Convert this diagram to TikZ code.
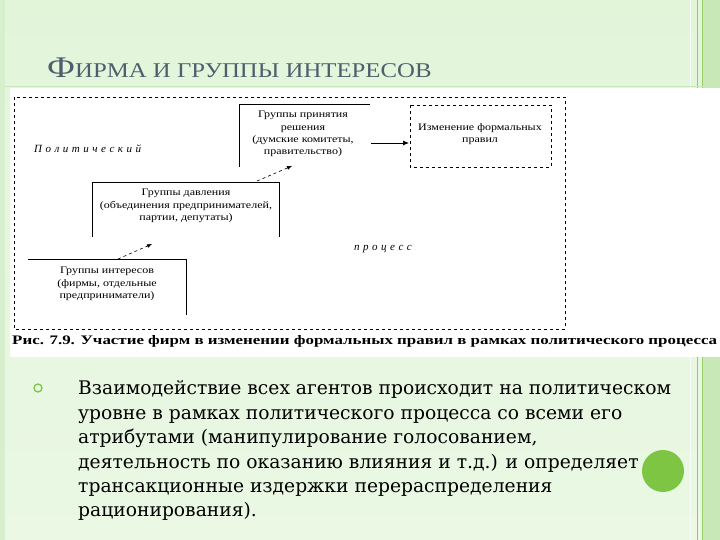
\documentclass[tikz,border=0pt]{standalone}
\usepackage{fontspec}
\setmainfont{Liberation Serif}
\newfontfamily\bodyfont{DejaVu Serif}
\usetikzlibrary{arrows.meta}
\definecolor{bg}{HTML}{E2F5D9}
\definecolor{bgl}{HTML}{EAF8E4}
\definecolor{band}{HTML}{C8E8B8}
\definecolor{lgreen}{HTML}{7DC542}
\definecolor{ttl}{HTML}{4D5F6E}
\newcommand{\wx}[1]{\scalebox{1.2}[1]{#1}}
\tikzset{
  boxtxt/.style={font=\fontsize{10}{12.4}\selectfont, align=center, inner sep=0pt},
  obox/.style={line width=0.6pt},
  dar/.style={dashed, line width=0.6pt, -{Latex[length=5pt,width=4pt]}},
  sar/.style={line width=0.8pt, -{Latex[length=6pt,width=5pt]}},
  body/.style={anchor=base west, inner sep=0pt, font=\bodyfont\fontsize{18.7}{20}\selectfont},
  proc/.style={font=\itshape\fontsize{11}{12}\selectfont, inner sep=0pt}
}
\begin{document}
\begin{tikzpicture}[x=1pt,y=-1pt]
\useasboundingbox (0,0) rectangle (720,540);
% slide background
\shade[top color=bg, bottom color=bgl] (0,0) rectangle (720,540);
\fill[band!70] (0,0) rectangle (5,540);
\fill[band] (703,0) rectangle (720,540);
\draw[band!90!black!10, line width=1pt] (690,0) -- (690,540);
\draw[band!80!black, line width=0.6pt] (697,0) -- (697,540);
\draw[lgreen!80, line width=0.8pt] (702,0) -- (702,540);
\draw[band, line width=1pt] (5,87) -- (703,87);
% title
\node[anchor=base west, inner sep=0pt, text=ttl] (title) at (47,78)
  {\scalebox{1.18}[1]{\fontsize{30}{32}\selectfont Ф\fontsize{21}{24}\selectfont ИРМА И ГРУППЫ ИНТЕРЕСОВ}};
% white figure area
\fill[white] (10,88) rectangle (720,357);
% outer dashed frame
\draw[dashed, line width=0.6pt] (14,97) rectangle (565,329);
% box A
\draw[obox] (239,167) -- (239,104) -- (370,104);
\node[boxtxt] (a) at (303,134) {\wx{Группы принятия}\\\wx{решения}\\\wx{(думские комитеты,}\\\wx{правительство)}};
% box B
\draw[dashed, line width=0.6pt] (410,105) rectangle (551,167);
\node[boxtxt] (b) at (480,134) {\wx{Изменение формальных}\\\wx{правил}};
\coordinate (ae) at (371,143);
\coordinate (bw) at (409,143);
\draw[sar] (ae) -- (bw);
% box C
\draw[obox] (92,237) -- (92,182) -- (279,182) -- (279,237);
\node[boxtxt] (c) at (186,206) {\wx{Группы давления}\\\wx{(объединения предпринимателей,}\\\wx{партии, депутаты)}};
\coordinate (cs) at (257,181);
\coordinate (at) at (292,166);
\draw[dar] (cs) -- (at);
% box D
\draw[obox] (28,259) -- (186,259) -- (186,315);
\node[boxtxt] (d) at (107,284) {\wx{Группы интересов}\\\wx{(фирмы, отдельные}\\\wx{предприниматели)}};
\coordinate (ds) at (118,259);
\coordinate (ct) at (152,244);
\draw[dar] (ds) -- (ct);
% process labels
\node[proc, anchor=west] (pol) at (34,149) {П\hspace{3.5pt}о\hspace{3.5pt}л\hspace{3.5pt}и\hspace{3.5pt}т\hspace{3.5pt}и\hspace{3.5pt}ч\hspace{3.5pt}е\hspace{3.5pt}с\hspace{3.5pt}к\hspace{3.5pt}и\hspace{3.5pt}й};
\node[proc, anchor=west] (pr) at (354,249) {п\hspace{3.5pt}р\hspace{3.5pt}о\hspace{3.5pt}ц\hspace{3.5pt}е\hspace{3.5pt}с\hspace{3.5pt}с};
% caption
\node[anchor=west, inner sep=0pt, font=\bfseries\fontsize{13}{14}\selectfont] (cap) at (12,341)
  {\scalebox{1.3}[1]{Рис. 7.9. Участие фирм в изменении формальных правил в рамках политического процесса}};
% bullet
\draw[lgreen, line width=1.3pt] (38,388) circle (4);
\node[body] (l1) at (78,394) {Взаимодействие всех агентов происходит на политическом};
\node[body] (l2) at (78,419) {уровне в рамках политического процесса со всеми его};
\node[body] (l3) at (78,443) {атрибутами (манипулирование голосованием,};
\node[body] (l4) at (78,468) {деятельность по оказанию влияния и т.д.) и определяет};
\node[body] (l5) at (78,492) {трансакционные издержки перераспределения};
\node[body] (l6) at (78,516) {рационирования).};
\fill[lgreen] (663,471) circle (21);
\end{tikzpicture}
\end{document}
